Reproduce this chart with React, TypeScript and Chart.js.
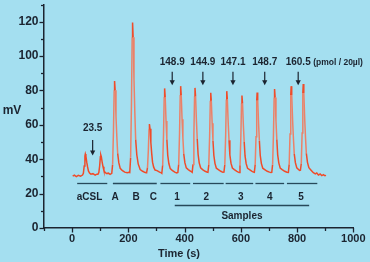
import React, { useEffect, useRef } from "react";
import { Chart, registerables } from "chart.js";

Chart.register(...registerables);

// Detector trace: time (s) and signal (mV)
const times = [
  2, 8, 15, 22, 30, 37, 40, 43, 45.5, 47, 49, 52, 55, 58, 62, 67, 74, 82, 88,
  92, 95, 98, 100.5, 102, 104, 107, 110, 113, 117, 122, 129, 135,
  141, 144, 147, 149.5, 151, 153, 156, 159, 162, 166, 171, 178, 187, 196, 202,
  205, 208, 211, 213.5, 215, 217, 220, 223, 226, 230, 235, 242, 251, 258, 263,
  265, 268, 271, 273.5, 275, 277, 280, 283, 286, 290, 295, 302, 311, 316,
  319, 322, 325, 327.5, 329, 331, 334, 337, 340, 344, 349, 356, 365, 372,
  376, 379, 382, 384.5, 386, 388, 391, 394, 397, 401, 406, 413, 422,
  427, 430, 433, 435.5, 437, 439, 442, 445, 448, 452, 457, 464, 473, 479,
  483, 486, 489, 491.5, 493, 495, 498, 501, 504, 508, 513, 520, 529, 536,
  540, 543, 546, 548.5, 550, 552, 555, 558, 561, 565, 570, 577, 586, 591,
  594, 597, 600, 602.5, 604, 606, 609, 612, 615, 619, 624, 631, 640, 645,
  648, 651, 654, 656.5, 658, 660, 663, 666, 669, 673, 678, 685, 694, 702, 707,
  710, 713, 716, 718.5, 720, 722, 725, 728, 731, 735, 740, 747, 756, 764,
  769, 772, 775, 777.5, 779, 781, 784, 787, 790, 794, 799, 805, 809,
  812, 815, 818, 820.5, 822, 824, 827, 830, 833, 837, 842, 849, 858, 865, 870,
  876, 882, 888, 894, 899, 903,
];
const millivolts = [
  30.2, 30.8, 29.9, 30.6, 30.1, 30.8, 31.8, 36.1, 41.8, 43, 41.8, 38.3, 35.5, 33.2, 32, 31.3, 31.6, 30.8, 31.3,
  31.3, 32.2, 36.2, 41.4, 42.5, 41.4, 38.1, 35.6, 33.5, 32.4, 31.7, 31.9, 31.2,
  31.8, 36.9, 55.8, 80.1, 85.5, 80.1, 65, 53.1, 43.4, 38, 34.7, 33.5, 32.5, 32.2, 32.4,
  32.3, 40.8, 71.6, 111, 119.5, 111, 86.6, 67.2, 51.4, 42.6, 37.3, 34, 33, 32.4, 32.2,
  32.3, 34.9, 44.8, 57.7, 60.5, 57.7, 49.7, 43.4, 38.3, 35.4, 33.7, 33.4, 32.5, 32.2,
  31.8, 36.5, 53.9, 76.2, 81.2, 76.2, 62.3, 51.4, 42.4, 37.5, 34.5, 33.5, 32.5, 32,
  32.3, 37, 54.7, 77.4, 82.5, 77.4, 63.3, 52.2, 43.1, 38, 35, 34, 33,
  32.4, 37, 54.3, 76.6, 81.5, 76.6, 62.7, 51.8, 42.9, 37.9, 35, 34, 33, 32.6,
  32.4, 36.7, 53, 74, 78.6, 74, 60.9, 50.6, 42.3, 37.6, 34.8, 34, 33, 32.4,
  32.5, 36.8, 53.4, 74.8, 79.6, 74.8, 61.5, 51, 42.5, 37.7, 34.9, 34, 33, 32.5,
  32.3, 36.5, 52.3, 72.5, 77, 72.5, 59.9, 50, 41.9, 37.4, 34.7, 34, 33, 32.5,
  32.4, 36.7, 53.1, 74.1, 78.8, 74.1, 61, 50.7, 42.3, 37.6, 34.8, 34, 33, 32.5, 32.3,
  32.4, 36.9, 54, 75.9, 80.8, 75.9, 62.3, 51.5, 42.7, 37.9, 34.9, 34, 33, 32.4,
  32.3, 37, 54.7, 77.4, 82.5, 77.4, 63.3, 52.2, 43.1, 38, 35, 34, 33.5,
  33.6, 37.5, 55.3, 78.5, 83.7, 78.5, 64.1, 52.7, 43.4, 38.2, 35.1, 33.8, 32.2, 31.5, 32,
  30.8, 31.4, 30.5, 31, 30.4, 30.6,
];

// Injected amounts marked with arrows
const doseLabels = ["23.5", "148.9", "144.9", "147.1", "148.7", "160.5"];
const doseTimes = [73, 356, 465, 572, 685, 804];
const doseUnit = "(pmol / 20\u00b5l)";

// Injection groups under the trace
const groupNames = ["aCSL", "A", "B", "C", "1", "2", "3", "4", "5"];
const groupLabelTimes = [62, 153, 228, 289, 373, 477, 600, 703, 814];
const bracketStarts = [18, 145, 314, 430, 546, 652, 764];
const bracketEnds = [125, 301, 420, 539, 644, 754, 872];
const samplesName = "Samples";
const samplesSpan = [365, 843];

const xTicks = [-100, 0, 100, 200, 300, 400, 500, 600, 700, 800, 900, 1000];
const yTicks = [0, 10, 20, 30, 40, 50, 60, 70, 80, 90, 100, 110, 120, 130];

const INK = "#1b2430";
const BRACKET = "#27495a";
const FONT = "'Liberation Sans', Arial, Helvetica, sans-serif";

const overlay = {
  id: "overlay",
  afterDraw(chart: any) {
    const { ctx, scales } = chart;
    const xs = scales.x;
    const ys = scales.y;
    const px = (t: number) => xs.getPixelForValue(t);
    const py = (v: number) => ys.getPixelForValue(v);
    ctx.save();

    // tick marks
    ctx.strokeStyle = INK;
    ctx.lineWidth = 1.3;
    const x0 = xs.left;
    const yb = ys.bottom;
    yTicks.forEach((v) => {
      const len = v % 20 === 0 ? 4.5 : 3;
      const y = Math.round(py(v)) + 0.5;
      ctx.beginPath();
      ctx.moveTo(x0 - len, y);
      ctx.lineTo(x0, y);
      ctx.stroke();
    });
    xTicks.forEach((t) => {
      const len = t % 200 === 0 ? 4.5 : 3;
      const x = Math.round(px(t)) + 0.5;
      ctx.beginPath();
      ctx.moveTo(x, yb);
      ctx.lineTo(x, yb + len);
      ctx.stroke();
    });

    // axis titles
    ctx.fillStyle = INK;
    ctx.textBaseline = "middle";
    ctx.textAlign = "center";
    ctx.font = `bold 12px ${FONT}`;
    ctx.fillText("mV", 12, 110.5);
    ctx.font = `bold 11px ${FONT}`;
    ctx.fillText("Time (s)", 179, 254);

    // dose labels with arrows
    doseLabels.forEach((lab, i) => {
      const x = px(doseTimes[i]);
      const low = i === 0;
      const textV = low ? 58 : 96.7;
      const topV = low ? 51.2 : 90.9;
      const tipV = low ? 42.2 : 83.1;
      ctx.font = `bold 10px ${FONT}`;
      ctx.textAlign = "center";
      ctx.fillText(lab, x, py(textV));
      const yTop = py(topV);
      const yTip = py(tipV);
      ctx.beginPath();
      ctx.lineWidth = 1.2;
      ctx.moveTo(x, yTop);
      ctx.lineTo(x, yTip - 4);
      ctx.stroke();
      ctx.beginPath();
      ctx.moveTo(x - 2.6, yTip - 5);
      ctx.lineTo(x + 2.6, yTip - 5);
      ctx.lineTo(x, yTip);
      ctx.closePath();
      ctx.fill();
      if (i === doseLabels.length - 1) {
        ctx.font = `bold 8.5px ${FONT}`;
        ctx.textAlign = "left";
        ctx.fillText(doseUnit, x + 15, py(textV) + 0.5);
      }
    });

    // group brackets and names
    ctx.strokeStyle = BRACKET;
    ctx.lineWidth = 1.3;
    bracketStarts.forEach((s, i) => {
      const y = Math.round(py(26)) + 0.5;
      ctx.beginPath();
      ctx.moveTo(px(s), y);
      ctx.lineTo(px(bracketEnds[i]), y);
      ctx.stroke();
    });
    ctx.font = `bold 10px ${FONT}`;
    ctx.textAlign = "center";
    groupNames.forEach((g, i) => {
      ctx.fillText(g, px(groupLabelTimes[i]), py(17.9));
    });
    const ys2 = Math.round(py(13.2)) + 0.5;
    ctx.beginPath();
    ctx.moveTo(px(samplesSpan[0]), ys2);
    ctx.lineTo(px(samplesSpan[1]), ys2);
    ctx.stroke();
    ctx.fillText(samplesName, px((samplesSpan[0] + samplesSpan[1]) / 2), py(6.8));

    ctx.restore();
  },
};

export default function App() {
  const ref = useRef<HTMLCanvasElement>(null);

  useEffect(() => {
    document.body.style.margin = "0";
    const canvas = ref.current;
    if (!canvas) return;
    const points = times.map((t, i) => ({ x: t, y: millivolts[i] }));
    const chart = new Chart(canvas, {
      type: "scatter",
      data: {
        datasets: [
          {
            data: points,
            showLine: true,
            pointRadius: 0,
            borderWidth: 1.5,
            borderColor: "#ef4c2a",
            tension: 0,
            segment: {
              borderColor: (c: any) =>
                Math.abs(c.p1.parsed.y - c.p0.parsed.y) > 9 ? "#eb8168" : "#ef4c2a",
            },
          },
        ],
      },
      options: {
        responsive: false,
        animation: false,
        events: [],
        layout: { padding: { left: 0, right: 16.7, top: 4.5, bottom: 0 } },
        plugins: { legend: { display: false }, tooltip: { enabled: false } },
        scales: {
          x: {
            type: "linear",
            min: -100,
            max: 1000,
            afterFit: (s: any) => {
              s.height = 34;
              s.paddingLeft = 0;
              s.paddingRight = 0;
            },
            grid: { display: false, drawTicks: false, tickLength: 0 },
            border: { display: true, color: INK, width: 1.5 },
            ticks: {
              stepSize: 100,
              padding: 4,
              color: INK,
              font: { family: FONT, size: 11, weight: "bold" },
              maxRotation: 0,
              autoSkip: false,
              callback: (v: any) => (Number(v) >= 0 && Number(v) % 200 === 0 ? String(v) : ""),
            },
          },
          y: {
            min: 0,
            max: 130,
            afterFit: (s: any) => {
              s.width = 44;
              s.paddingTop = 0;
              s.paddingBottom = 0;
            },
            grid: { display: false, drawTicks: false, tickLength: 0 },
            border: { display: true, color: INK, width: 1.5 },
            ticks: {
              stepSize: 10,
              padding: 5.5,
              color: INK,
              font: { family: FONT, size: 12, weight: "bold" },
              autoSkip: false,
              callback: (v: any) => (Number(v) % 20 === 0 ? String(v) : ""),
            },
          },
        },
      },
      plugins: [overlay],
    });
    return () => chart.destroy();
  }, []);

  return (
    <div style={{ width: 370, height: 262, background: "#a4dff0" }}>
      <canvas ref={ref} width={370} height={262} />
    </div>
  );
}
